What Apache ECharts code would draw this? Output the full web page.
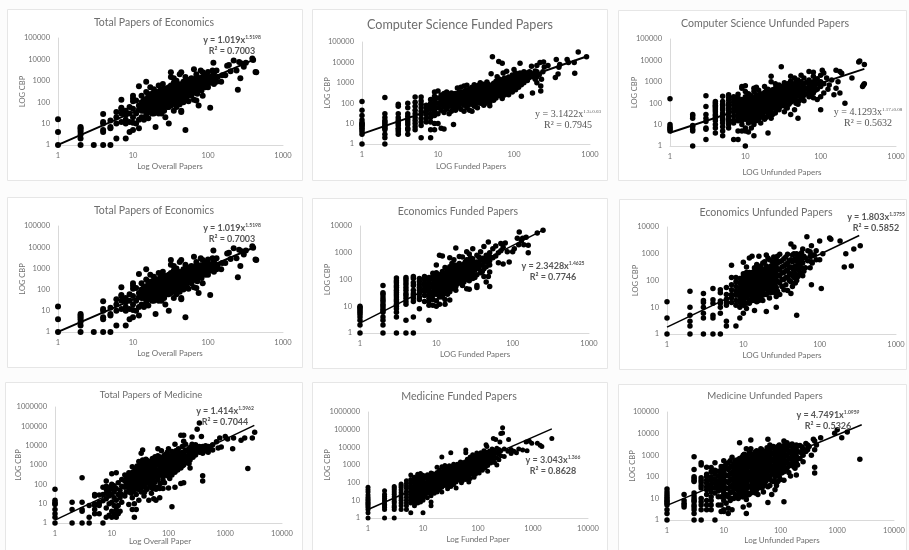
<!DOCTYPE html>
<html><head><meta charset="utf-8">
<style>html,body{margin:0;padding:0;background:#fcfcfc}#c{width:909px;height:550px;filter:blur(0.5px)}</style>
<script src="https://cdn.jsdelivr.net/npm/echarts@6/dist/echarts.min.js"></script>
</head><body><div id="c"></div>
<script>
const econTotal=[[1,1],[1,4],[1,16],[2,1],[2,2],[2,3],[2,4],[2,5],[2,6],[2,7],[3,1],[4,1],[4,4],[4,5],[4,10],[4,12],[4,28],[5,1],[5,6],[5,7],[5,14],[6,2],[6,10],[6,20],[6,35],[7,12],[7,30],[7,50],[7,130],[7,55],[8,2],[8,10],[8,15],[8,25],[8,40],[9,4],[9,12],[9,30],[9,60],[10,5],[10,11],[10,20],[10,50],[10,110],[10,150],[10,200],[11,10],[11,30],[11,120],[12,6],[12,15],[12,45],[12,70],[12,550],[13,20],[13,100],[13,200],[14,15],[14,40],[14,80],[14,130],[15,25],[15,60],[15,300],[15,900],[16,18],[16,50],[16,110],[16,180],[17,35],[17,90],[17,500],[18,45],[18,70],[18,150],[18,250],[19,30],[19,120],[19,400],[20,7],[20,60],[20,95],[20,200],[21,40],[21,130],[21,300],[22,80],[22,170],[22,600],[23,50],[23,110],[23,240],[24,30],[24,140],[24,400],[25,75],[25,200],[25,700],[27,20],[27,90],[27,160],[27,320],[29,60],[29,130],[29,250],[29,450],[30,10],[30,100],[30,180],[30,380],[32,2500],[32,1500],[32,70],[32,140],[32,280],[32,600],[35,40],[35,110],[35,200],[35,350],[35,800],[35,1300],[38,60],[38,160],[38,300],[38,500],[38,1000],[40,90],[40,220],[40,420],[40,700],[42,2000],[44,35],[44,40],[44,120],[44,260],[44,550],[44,2500],[47,100],[47,180],[47,340],[47,900],[50,5],[50,140],[50,240],[50,450],[50,1500],[55,110],[55,300],[55,600],[55,1100],[60,200],[60,380],[60,750],[60,1300],[65,130],[65,280],[65,500],[65,1000],[65,3500],[70,120],[70,350],[70,700],[70,1500],[70,2000],[75,400],[75,70],[75,900],[80,450],[80,800],[80,1400],[80,3000],[85,200],[85,600],[85,1200],[85,2500],[90,700],[90,1600],[95,900],[95,1900],[100,500],[100,1100],[100,2600],[107,55],[107,800],[110,1300],[115,1700],[115,3000],[118,7000],[120,700],[120,2200],[130,900],[130,3000],[135,1500],[150,900],[155,1800],[170,1800],[180,5000],[190,5500],[200,2800],[220,9000],[240,3000],[250,380],[260,7500],[270,1300],[280,6500],[300,4500],[320,7000],[390,11000],[430,2600],[440,2500],[400,9500],
[13,40],[13,60],[14,60],[14,100],[15,40],[15,90],[15,140],[16,35],[16,75],[16,140],[16,240],[17,55],[17,130],[17,220],[18,30],[18,100],[18,190],[19,50],[19,80],[19,160],[19,260],[20,40],[20,130],[20,280],[21,70],[21,100],[21,200],[22,30],[22,55],[22,120],[22,240],[23,80],[23,160],[23,350],[24,60],[24,100],[24,200],[25,50],[25,110],[25,150],[25,300],[26,40],[26,120],[26,230],[26,450],[28,70],[28,110],[28,200],[28,350],[30,60],[30,140],[30,260],[30,500],[31,90],[33,120],[33,220],[33,450],[34,170],[36,80],[36,140],[36,270],[36,600],[38,110],[38,220],[38,380],[40,150],[40,300],[40,550],[42,80],[42,190],[42,350],[45,160],[45,300],[45,450],[45,700],[48,220],[48,400],[48,650],[52,180],[52,350],[52,800],[58,240],[58,450],[58,850],[62,300],[62,550],[62,1000],[68,420],[68,800],[72,250],[72,500],[72,1100],[78,600],[78,1100],[82,350],[88,900],[92,500],[92,1300],[98,700],[105,1500],[110,900],[125,1200]];
const csFunded=[[1,1],[1,3],[1,4],[1,5],[1,6],[1,7],[1,8],[1,9],[1,10],[1,11],[1,15],[1,25],[1,45],[1,120],[2,1],[2,2],[2,3],[2,5],[2,6],[2,7],[2,8],[2,10],[2,12],[2,14],[2,20],[2,30],[2,190],[3,3],[3,4],[3,5],[3,6],[3,8],[3,10],[3,12],[3,15],[3,20],[3,30],[3,70],[3,90],[4,3],[4,5],[4,6],[4,9],[4,12],[4,16],[4,22],[4,30],[4,60],[4,100],[5,5],[5,7],[5,10],[5,14],[5,20],[5,30],[5,45],[5,70],[5,110],[5,200],[6,2],[6,8],[6,12],[6,18],[6,28],[6,40],[6,60],[6,90],[6,130],[6,200],[7,12],[7,18],[7,28],[7,40],[7,60],[7,80],[8,2],[8,5],[8,12],[8,20],[8,30],[8,50],[8,70],[8,100],[8,150],[9,5],[9,10],[9,25],[9,40],[9,60],[9,90],[9,140],[9,220],[9,350],[10,10],[10,30],[10,60],[10,100],[10,180],[10,400],[11,6],[11,45],[11,80],[11,140],[11,250],[12,5.5],[12,35],[12,65],[12,120],[12,300],[13,50],[13,90],[13,170],[13,350],[14,30],[14,70],[14,130],[14,230],[15,40],[15,100],[15,190],[15,320],[16,9],[16,60],[16,150],[16,280],[17,45],[17,110],[17,210],[18,70],[18,140],[18,260],[18,550],[19,90],[19,180],[19,350],[20,50],[20,120],[20,230],[20,600],[22,40],[22,80],[22,160],[22,300],[22,700],[24,60],[24,110],[24,200],[24,400],[24,750],[26,45],[26,140],[26,260],[26,500],[28,40],[28,90],[28,180],[28,330],[28,600],[30,70],[30,120],[30,230],[30,420],[30,800],[33,60],[33,150],[33,290],[33,520],[36,100],[36,190],[36,360],[36,650],[36,1000],[40,80],[40,130],[40,240],[40,450],[40,850],[44,160],[44,300],[44,560],[44,1100],[48,75],[48,110],[48,210],[48,380],[48,700],[50,2800],[52,19000],[54,140],[54,280],[54,500],[54,950],[58,180],[58,350],[58,650],[58,1200],[60,2000],[63,11000],[65,230],[65,450],[65,850],[65,1500],[70,9000],[70,170],[72,300],[72,580],[72,1100],[72,3000],[78,400],[78,750],[78,1400],[80,3700],[85,260],[85,500],[85,1000],[85,1900],[95,350],[95,650],[95,1300],[95,2400],[100,4500],[105,450],[105,850],[105,1700],[105,3000],[115,600],[115,1100],[115,2100],[120,9000],[125,220],[125,800],[125,1400],[125,2800],[135,1000],[135,1900],[135,3500],[150,1300],[150,2500],[165,3000],[170,6500],[175,320],[180,2000],[190,1500],[190,3800],[200,1000],[200,7000],[215,2500],[220,10000],[225,400],[225,700],[230,1500],[240,3500],[245,10500],[250,6000],[280,7000],[350,1800],[360,14000],[380,2700],[390,5800],[400,8000],[500,14000],[520,10000],[620,10000],[630,2900],[700,32000],[900,19000],
[11,110],[11,190],[12,85],[12,200],[13,130],[13,250],[14,100],[14,180],[15,70],[15,140],[15,250],[16,110],[16,210],[17,80],[17,150],[17,300],[18,100],[18,190],[19,65],[19,130],[19,250],[21,100],[21,190],[21,350],[23,120],[23,230],[23,420],[25,80],[25,170],[25,320],[27,110],[27,210],[27,400],[29,150],[29,280],[31,95],[31,190],[31,350],[31,600],[34,120],[34,230],[34,420],[34,750],[38,160],[38,300],[38,550],[42,100],[42,200],[42,370],[42,650],[46,140],[46,260],[46,480],[46,850],[50,180],[50,330],[50,600],[56,230],[56,420],[56,800],[62,300],[62,550],[62,1000],[68,380],[68,700],[68,1300],[75,250],[75,480],[75,900],[75,1700],[82,350],[82,650],[82,1200],[90,450],[90,850],[90,1600],[100,600],[100,1100],[100,2000],[110,700],[110,1300],[110,2500],[120,1500],[120,3000],[130,1100],[130,2200],[145,1500],[145,3000],[160,1800],[160,3500],[180,2700],[200,2000],[200,3500]];
const csUnfunded=[[1,5],[1,6],[1,7],[1,8],[1,10],[1,160],[2,1],[2,5],[2,6],[2,8],[2,9],[2,20],[2,25],[2,30],[3,2],[3,6],[3,7],[3,14],[3,20],[3,30],[3,70],[3,220],[4,4],[4,7],[4,10],[4,15],[4,20],[4,25],[4,30],[4,40],[4,50],[4,60],[4,70],[4,80],[4,100],[4,120],[5,3],[5,5],[5,8],[5,12],[5,16],[5,20],[5,28],[5,35],[5,50],[5,60],[5,75],[5,90],[5,120],[5,210],[6,7],[6,10],[6,14],[6,18],[6,24],[6,35],[6,45],[6,60],[6,80],[6,100],[6,140],[6,180],[6,250],[7,2],[7,12],[7,16],[7,25],[7,40],[7,55],[7,80],[7,110],[7,150],[7,200],[8,2],[8,5],[8,20],[8,30],[8,50],[8,70],[8,100],[8,130],[8,180],[8,260],[9,5],[9,10],[9,15],[9,25],[9,40],[9,70],[9,100],[9,150],[9,500],[9,600],[10,1],[10,5],[10,7],[10,18],[10,30],[10,50],[10,75],[10,120],[10,200],[10,350],[10,650],[11,4.5],[11,12],[11,25],[11,40],[11,65],[11,100],[11,160],[11,280],[12,7],[12,20],[12,35],[12,55],[12,85],[12,130],[12,220],[13,3],[13,10],[13,28],[13,45],[13,70],[13,110],[13,180],[13,350],[13,500],[14,15],[14,38],[14,60],[14,95],[14,150],[14,250],[14,550],[15,25],[15,50],[15,80],[15,130],[15,210],[15,400],[16,12],[16,32],[16,65],[16,110],[16,170],[16,280],[18,18],[18,40],[18,70],[18,120],[18,190],[18,320],[18,600],[20,4],[20,28],[20,55],[20,95],[20,150],[20,250],[20,450],[22,20],[22,45],[22,75],[22,130],[22,210],[22,350],[22,1000],[22,1800],[25,35],[25,65],[25,110],[25,180],[25,300],[25,500],[25,800],[28,50],[28,90],[28,150],[28,260],[28,420],[28,700],[30,5000],[30,75],[30,120],[30,220],[30,360],[30,600],[33,40],[33,100],[33,180],[33,300],[33,500],[33,900],[36,60],[36,140],[36,250],[36,420],[36,700],[40,30],[40,110],[40,200],[40,350],[40,600],[40,1100],[40,1800],[45,50],[45,150],[45,280],[45,480],[45,800],[45,1500],[50,20],[50,90],[50,220],[50,380],[50,650],[50,1200],[55,170],[55,300],[55,520],[55,1000],[55,2000],[60,130],[60,240],[60,420],[60,800],[60,1500],[70,200],[70,350],[70,650],[70,1200],[70,3000],[80,180],[80,300],[80,550],[80,1000],[80,1800],[80,2800],[90,150],[90,450],[90,800],[90,1400],[100,50],[100,200],[100,600],[100,1000],[100,2000],[105,3500],[110,300],[110,800],[110,2600],[120,1500],[125,450],[130,700],[140,1200],[150,250],[160,500],[160,3500],[170,1000],[180,300],[180,3000],[190,2500],[210,100],[260,1500],[320,8500],[330,9500],[360,600],[370,700],[380,800],[380,6500],
[8,15],[8,40],[9,20],[9,32],[9,55],[9,85],[9,120],[10,22],[10,38],[10,60],[10,95],[10,150],[11,18],[11,32],[11,50],[11,80],[11,130],[12,14],[12,28],[12,45],[12,70],[12,105],[12,170],[13,20],[13,36],[13,58],[13,90],[13,140],[14,20],[14,30],[14,48],[14,75],[14,120],[14,190],[15,18],[15,38],[15,65],[15,105],[15,170],[16,22],[16,45],[16,85],[16,140],[16,220],[17,30],[17,55],[17,90],[17,150],[17,240],[19,22],[19,48],[19,85],[19,140],[19,220],[19,380],[21,38],[21,70],[21,115],[21,180],[21,300],[23,30],[23,60],[23,100],[23,160],[23,260],[23,420],[26,50],[26,85],[26,140],[26,240],[26,380],[26,650],[29,70],[29,120],[29,200],[29,340],[29,550],[31,90],[31,160],[31,270],[31,450],[34,70],[34,130],[34,230],[34,380],[34,650],[38,90],[38,170],[38,300],[38,500],[38,850],[42,130],[42,240],[42,420],[42,750],[47,100],[47,200],[47,350],[47,600],[47,1000],[52,130],[52,280],[52,480],[52,850],[58,200],[58,360],[58,650],[65,280],[65,500],[65,950],[75,280],[75,450],[75,850],[85,400],[85,700],[85,1200]];
const econFunded=[[1,1],[1,2],[1,3],[1,4],[1,5],[1,6],[1,7],[1,8],[1,9],[1,10],[2,1],[2,2],[2,3],[2,4],[2,6],[2,7],[2,8],[2,10],[2,12],[2,15],[2,18],[2,22],[2,28],[2,32],[2,60],[3,1],[3,4],[3,6],[3,8],[3,10],[3,12],[3,15],[3,18],[3,22],[3,27],[3,33],[3,40],[3,50],[3,60],[3,75],[3,90],[3,115],[4,1],[4,3],[4,12],[4,15],[4,20],[4,25],[4,30],[4,40],[4,50],[4,65],[4,80],[4,100],[4,120],[5,1],[5,4],[5,15],[5,20],[5,25],[5,30],[5,40],[5,60],[5,75],[5,110],[5,130],[6,8],[6,18],[6,22],[6,30],[6,40],[6,50],[6,65],[6,85],[6,110],[7,15],[7,25],[7,35],[7,45],[7,60],[7,75],[7,100],[7,130],[8,3],[8,11],[8,15],[8,20],[8,28],[8,38],[8,50],[8,70],[8,90],[8,120],[9,11],[9,18],[9,25],[9,35],[9,50],[9,70],[9,100],[9,130],[9,170],[10,10],[10,16],[10,28],[10,45],[10,70],[10,110],[10,180],[10,350],[11,12],[11,22],[11,38],[11,60],[11,95],[11,150],[11,800],[12,30],[12,50],[12,80],[12,130],[12,200],[12,750],[13,12],[13,18],[13,40],[13,65],[13,105],[13,170],[13,280],[14,28],[14,50],[14,85],[14,140],[14,230],[15,17],[15,35],[15,65],[15,110],[15,180],[15,300],[15,650],[16,45],[16,80],[16,130],[16,220],[16,400],[17,55],[17,95],[17,160],[17,270],[17,550],[18,1500],[18,40],[18,70],[18,120],[18,200],[18,340],[20,90],[20,150],[20,250],[20,400],[20,720],[22,60],[22,110],[22,180],[22,300],[22,700],[25,45],[25,130],[25,220],[25,350],[25,550],[25,1100],[27,43],[27,90],[27,170],[27,280],[27,450],[27,900],[30,110],[30,200],[30,340],[30,600],[30,1400],[34,50],[34,60],[34,150],[34,280],[34,450],[34,800],[38,180],[38,350],[38,600],[38,1100],[42,130],[42,250],[42,450],[42,1700],[45,80],[45,300],[45,800],[48,130],[48,500],[48,2500],[50,55],[50,190],[50,350],[50,1000],[55,650],[55,1400],[60,750],[60,1800],[65,420],[65,1000],[70,2200],[70,1200],[75,380],[75,1600],[80,2300],[85,1100],[90,450],[100,1100],[105,1400],[115,3500],[120,2000],[122,6000],[130,2800],[135,3500],[140,2000],[150,3800],[160,1000],[160,1900],[210,5500],[250,7000],
[10,35],[10,55],[10,90],[10,140],[11,30],[11,48],[11,75],[11,120],[12,22],[12,40],[12,65],[12,105],[12,160],[13,30],[13,52],[13,85],[13,135],[14,38],[14,65],[14,110],[14,180],[15,50],[15,85],[15,140],[15,230],[16,60],[16,105],[16,170],[16,290],[17,75],[17,125],[17,210],[17,350],[18,55],[18,95],[18,155],[18,260],[19,70],[19,120],[19,200],[19,330],[20,115],[20,190],[20,320],[21,85],[21,140],[21,240],[23,80],[23,140],[23,230],[23,380],[24,100],[24,170],[24,280],[24,460],[26,120],[26,200],[26,320],[26,520],[28,130],[28,230],[28,380],[28,650],[30,150],[30,260],[30,450],[32,120],[32,220],[32,380],[36,250],[36,420],[36,700],[40,200],[40,350],[40,620],[45,450],[45,600],[50,500],[50,700]];
const econUnfunded=[[1,1],[1,4],[1,16],[2,1],[2,2],[2,3],[2,5],[2,10],[2,40],[3,1],[3,4],[3,6],[3,10],[3,15],[3,18],[3,33],[4,1],[4,4],[4,5],[4,14],[4,19],[4,50],[5,1],[5,6],[5,10],[5,14],[5,17],[5,35],[5,45],[6,2],[6,3],[6,12],[6,15],[6,20],[6,30],[6,55],[7,15],[7,22],[7,30],[7,45],[7,70],[7,130],[7,370],[8,2],[8,12],[8,18],[8,28],[8,40],[8,60],[8,90],[8,130],[9,4],[9,10],[9,15],[9,25],[9,35],[9,55],[9,80],[9,120],[10,6],[10,12],[10,18],[10,28],[10,45],[10,70],[10,110],[10,180],[10,480],[11,9],[11,22],[11,35],[11,55],[11,90],[11,150],[11,320],[12,14],[12,28],[12,45],[12,75],[12,120],[12,200],[12,700],[13,18],[13,35],[13,60],[13,95],[13,160],[13,800],[14,7.5],[14,25],[14,45],[14,75],[14,130],[14,220],[15,16],[15,35],[15,60],[15,100],[15,170],[15,280],[16,28],[16,50],[16,85],[16,140],[16,800],[17,20],[17,40],[17,70],[17,115],[17,190],[17,350],[18,18],[18,55],[18,95],[18,160],[18,260],[20,7],[20,30],[20,70],[20,120],[20,200],[20,350],[20,900],[22,22],[22,50],[22,90],[22,150],[22,260],[22,600],[25,40],[25,75],[25,130],[25,220],[25,400],[25,750],[27,10],[27,25],[27,55],[27,105],[27,180],[27,320],[27,600],[30,30],[30,80],[30,150],[30,260],[30,500],[30,950],[34,45],[34,110],[34,200],[34,350],[34,650],[38,42],[38,130],[38,250],[38,450],[38,950],[42,33],[42,90],[42,180],[42,320],[42,600],[42,2300],[46,130],[46,240],[46,1800],[46,1000],[50,5],[50,100],[50,300],[50,550],[50,1000],[55,200],[55,400],[55,800],[60,150],[60,450],[60,1500],[65,300],[65,700],[68,4300],[70,550],[70,1300],[78,70],[78,500],[78,2000],[85,900],[100,600],[105,50],[100,3000],[110,1000],[135,3900],[140,3500],[185,3000],[210,320],[220,1000],[260,350],[280,1500],[340,2000],
[9,18],[9,45],[10,22],[10,35],[10,55],[10,90],[10,140],[11,14],[11,28],[11,45],[11,70],[11,115],[11,200],[12,18],[12,35],[12,60],[12,95],[12,155],[13,24],[13,45],[13,75],[13,125],[13,200],[14,18],[14,35],[14,60],[14,100],[14,170],[14,300],[15,22],[15,45],[15,80],[15,130],[15,220],[15,400],[16,18],[16,38],[16,65],[16,110],[16,180],[16,320],[17,30],[17,55],[17,90],[17,150],[17,260],[18,28],[18,40],[18,75],[18,125],[18,210],[18,450],[19,50],[19,90],[19,150],[19,250],[19,500],[21,40],[21,65],[21,110],[21,180],[21,300],[21,700],[23,35],[23,70],[23,120],[23,200],[23,350],[24,55],[24,100],[24,170],[24,280],[24,500],[26,35],[26,65],[26,110],[26,180],[26,300],[26,500],[28,40],[28,90],[28,150],[28,250],[28,450],[28,800],[32,60],[32,110],[32,190],[32,320],[32,550],[36,70],[36,130],[36,230],[36,400],[36,750],[40,100],[40,180],[40,320],[40,550],[44,60],[44,150],[44,280],[44,500],[44,900],[48,80],[48,170],[48,350],[48,650],[52,140],[52,250],[52,450],[52,750],[58,300],[58,600],[58,1100],[62,220],[62,800],[75,300],[75,800],[75,1200],[80,450],[80,900],[90,600],[90,1300]];
const medTotal=[[1,1],[1,2],[1,3],[1,5],[1,9],[1,10],[1,12],[1,15],[1,55],[2,1],[2,5],[2,12],[3,1],[3,4],[3,5],[3,12],[3,220],[4,1],[4,2],[4,8],[5,3],[5,5],[5,8],[5,10],[5,25],[5,30],[6,3],[6,8],[6,10],[6,12],[6,28],[7,1],[7,14],[7,30],[7,70],[8,2],[8,6],[8,18],[8,35],[8,55],[8,80],[8,150],[9,2.5],[9,10],[9,25],[9,45],[9,70],[10,2],[10,4],[10,12],[10,30],[10,60],[10,100],[10,350],[11,3],[11,8],[11,20],[11,40],[11,85],[12,2],[12,5],[12,15],[12,60],[12,400],[13,3],[13,8],[13,30],[13,120],[14,4],[14,20],[14,50],[15,12],[15,30],[15,80],[15,180],[17,25],[17,70],[17,150],[17,300],[20,9],[20,40],[20,100],[20,200],[20,400],[23,5],[23,20],[23,60],[23,140],[23,280],[23,800],[25,2],[25,10],[25,90],[25,180],[25,350],[27,5],[27,30],[27,130],[27,250],[27,500],[30,15],[30,70],[30,160],[30,320],[30,650],[30,1500],[33,40],[33,100],[33,220],[33,450],[33,4000],[35,6000],[35,1800],[37,25],[37,140],[37,300],[37,600],[37,1200],[40,60],[40,180],[40,380],[40,800],[40,2000],[45,15],[45,110],[45,260],[45,500],[45,1000],[50,35],[50,150],[50,330],[50,650],[50,1400],[55,18],[55,80],[55,220],[55,450],[55,900],[55,1900],[60,15],[60,55],[60,280],[60,550],[60,1100],[60,2000],[65,7000],[65,180],[65,350],[65,3000],[70,20],[70,60],[70,450],[70,900],[70,1700],[75,5500],[80,60],[80,250],[80,600],[80,1200],[80,2400],[90,350],[90,750],[90,1500],[90,3500],[100,65],[100,450],[100,1000],[100,1900],[100,7000],[115,7],[115,300],[115,600],[115,1300],[115,2700],[115,5000],[130,70],[130,420],[130,800],[130,1700],[130,3600],[130,12000],[145,550],[145,1100],[145,2300],[145,4800],[165,110],[165,700],[165,1500],[165,3000],[165,35000],[185,120],[185,1000],[185,2000],[185,4000],[185,35000],[185,17000],[210,1300],[210,2700],[210,5500],[240,700],[240,1800],[240,3500],[240,8000],[260,28000],[270,2500],[270,4800],[270,10000],[300,3300],[300,6500],[300,11000],[320,70000],[350,150000],[350,4500],[350,9000],[380,30000],[400,150],[400,280],[400,4000],[400,7000],[450,5500],[450,10000],[500,4500],[500,9000],[550,7000],[600,6000],[600,11000],[700,16000],[750,7500],[800,25000],[850,8500],[1000,30000],[1100,22000],[1350,7000],[1400,25000],[1900,19000],[2200,25000],[2500,650],[3000,25000],[3300,50000],
[18,40],[18,100],[18,220],[20,60],[20,150],[20,280],[22,35],[22,80],[22,190],[22,380],[24,45],[24,110],[24,230],[24,450],[26,70],[26,160],[26,320],[26,650],[28,55],[28,110],[28,200],[28,400],[28,900],[32,50],[32,120],[32,260],[32,520],[32,1000],[35,75],[35,160],[35,350],[35,700],[35,1300],[38,40],[38,100],[38,220],[38,450],[38,900],[42,55],[42,140],[42,300],[42,600],[42,1200],[42,1700],[47,80],[47,190],[47,400],[47,800],[47,1500],[52,60],[52,110],[52,250],[52,520],[52,1100],[52,2200],[58,130],[58,320],[58,650],[58,1300],[58,2700],[65,70],[65,240],[65,500],[65,1000],[65,1900],[72,110],[72,300],[72,650],[72,1300],[72,2600],[80,170],[80,420],[80,850],[80,1700],[85,120],[85,500],[85,1000],[85,2000],[85,3300],[95,280],[95,600],[95,1250],[95,2500],[95,4500],[105,200],[105,750],[105,1500],[105,3000],[110,350],[110,850],[110,1750],[120,480],[120,1000],[120,2100],[120,4000],[135,600],[135,1300],[135,2700],[135,5500],[150,800],[150,1800],[150,3600],[150,7000],[175,900],[175,2300],[175,4500],[175,9000],[200,1500],[200,3000],[200,6000],[200,12000],[230,1200],[230,2200],[230,4200],[230,7000],[260,3000],[260,6000],[260,12000],[280,4000],[320,5000],[320,8000],[350,6500],[400,5500],[400,9000],[450,7500],[500,6500],[550,9000]];
const medFunded=[[1,1],[1,2],[1,3],[1,4],[1,5],[1,6],[1,7],[1,8],[1,10],[1,12],[1,15],[1,20],[1,30],[1,40],[1,55],[2,1],[2,3],[2,4],[2,5],[2,6],[2,8],[2,10],[2,13],[2,17],[2,22],[2,35],[3,1],[3,3],[3,4],[3,5],[3,7],[3,9],[3,12],[3,16],[3,22],[3,30],[3,40],[3,50],[3,60],[4,3],[4,5],[4,7],[4,10],[4,14],[4,20],[4,28],[4,40],[4,55],[4,70],[4,85],[5,3],[5,5],[5,7],[5,10],[5,15],[5,22],[5,32],[5,48],[5,65],[5,90],[5,130],[6,2],[6,7],[6,10],[6,14],[6,20],[6,30],[6,45],[6,65],[6,100],[6,150],[6,270],[7,5],[7,8],[7,12],[7,18],[7,26],[7,40],[7,60],[7,90],[7,130],[7,200],[8,7],[8,10],[8,16],[8,24],[8,36],[8,55],[8,80],[8,120],[8,180],[8,300],[9,8],[9,12],[9,18],[9,28],[9,42],[9,65],[9,100],[9,150],[9,240],[9,330],[10,2],[10,10],[10,14],[10,22],[10,34],[10,50],[10,75],[10,115],[10,170],[10,260],[12,14],[12,28],[12,50],[12,90],[12,160],[12,280],[14,5],[14,8],[14,18],[14,35],[14,65],[14,120],[14,220],[14,350],[16,25],[16,45],[16,85],[16,160],[16,300],[18,30],[18,60],[18,110],[18,200],[18,380],[18,750],[20,40],[20,75],[20,140],[20,260],[20,500],[22,30],[22,55],[22,100],[22,180],[22,340],[22,2800],[22,800],[25,70],[25,130],[25,240],[25,450],[25,950],[28,45],[28,90],[28,170],[28,320],[28,600],[32,60],[32,120],[32,220],[32,420],[32,800],[32,5000],[36,80],[36,160],[36,300],[36,560],[36,1100],[40,50],[40,110],[40,210],[40,400],[40,750],[45,140],[45,280],[45,520],[45,1000],[50,100],[50,190],[50,370],[50,700],[50,1400],[55,250],[55,480],[55,950],[60,5000],[60,7000],[60,150],[60,330],[60,650],[60,1300],[68,110],[68,220],[68,450],[68,900],[68,1800],[75,300],[75,600],[75,1200],[75,2500],[85,200],[85,400],[85,800],[85,1600],[85,3200],[95,550],[95,1100],[95,2200],[95,4800],[105,350],[105,750],[105,1500],[105,3000],[120,500],[120,1000],[120,2000],[120,4000],[135,700],[135,1400],[135,2800],[135,5600],[140,14000],[145,11000],[150,450],[150,950],[150,1900],[150,3800],[170,1300],[170,2600],[170,5200],[190,1800],[190,3600],[190,7000],[190,32000],[210,28000],[220,1000],[220,2500],[220,5000],[220,9000],[250,20000],[260,3300],[260,6500],[260,60000],[280,130000],[280,65000],[300,3000],[300,8000],[350,6000],[360,28000],[400,4500],[400,7500],[450,6000],[500,5000],[550,8000],[650,7000],[750,20000],[780,6500],[950,17000],[860,22000],[1200,17000],[1350,13000],[1450,11000],[2200,32000],
[11,20],[11,35],[11,60],[11,100],[11,180],[13,25],[13,45],[13,80],[13,140],[13,250],[15,30],[15,55],[15,100],[15,180],[15,320],[17,40],[17,70],[17,130],[17,240],[19,50],[19,90],[19,170],[19,320],[21,60],[21,110],[21,210],[21,400],[24,80],[24,150],[24,280],[24,550],[26,100],[26,190],[26,360],[26,700],[30,70],[30,130],[30,250],[30,480],[30,900],[34,90],[34,170],[34,330],[34,640],[38,120],[38,230],[38,450],[38,850],[42,150],[42,300],[42,580],[42,1100],[48,200],[48,400],[48,780],[48,1500],[52,130],[52,270],[52,520],[52,1000],[58,190],[58,380],[58,750],[58,1500],[64,270],[64,530],[64,1050],[64,2100],[72,170],[72,360],[72,720],[72,1400],[72,2800],[80,480],[80,950],[80,1900],[80,3800],[90,300],[90,650],[90,1300],[90,2600],[100,450],[100,900],[100,1800],[100,3600],[112,600],[112,1200],[112,2400],[112,5000],[128,800],[128,1600],[128,3200],[128,6500],[145,1100],[145,2200],[145,4500],[160,1500],[160,3000],[160,6000],[180,2000],[180,4000],[180,8000],[200,1400],[200,3000],[200,6000],[240,2000],[240,4000],[240,7500]];
const medUnfunded=[[1,1],[1,2],[1,3],[1,5],[1,6],[1,7],[1,8],[1,10],[1,12],[1,15],[1,20],[1,27],[2,4],[2,5],[2,6],[2,8],[2,15],[3,1],[3,2],[3,3],[3,4],[3,5],[3,7],[3,8],[3,10],[3,13],[3,18],[3,60],[3,70],[3,85],[3,100],[3,220],[3,850],[4,1],[4,3],[4,5],[4,7],[4,10],[4,30],[4,40],[4,55],[4,70],[4,90],[4,350],[4,450],[5,3],[5,5],[5,8],[5,15],[5,25],[5,35],[5,50],[5,70],[5,100],[5,130],[5,280],[6,3],[6,5],[6,8],[6,12],[6,20],[6,30],[6,45],[6,70],[6,100],[6,170],[6,270],[7,1],[7,18],[7,30],[7,50],[7,80],[7,130],[7,200],[7,450],[8,5],[8,12],[8,22],[8,38],[8,65],[8,110],[8,180],[9,2.5],[9,5],[9,12],[9,25],[9,50],[9,100],[9,200],[9,300],[10,2.5],[10,3],[10,8],[10,18],[10,38],[10,75],[10,150],[10,300],[10,550],[12,2],[12,3.5],[12,12],[12,28],[12,55],[12,110],[12,220],[12,450],[14,3],[14,10],[14,20],[14,40],[14,80],[14,160],[14,320],[14,800],[16,15],[16,30],[16,65],[16,130],[16,260],[16,550],[18,10],[18,24],[18,50],[18,100],[18,200],[18,400],[19,3800],[20,16],[20,35],[20,75],[20,150],[20,300],[20,600],[22,4],[22,12],[22,28],[22,60],[22,120],[22,240],[22,480],[22,1000],[25,2],[25,9],[25,20],[25,45],[25,95],[25,190],[25,380],[25,800],[25,2000],[28,5],[28,15],[28,35],[28,75],[28,150],[28,300],[28,600],[28,1300],[30,5000],[30,2000],[32,25],[32,55],[32,110],[32,220],[32,450],[32,900],[36,18],[36,40],[36,85],[36,170],[36,340],[36,680],[36,1400],[40,15],[40,30],[40,65],[40,130],[40,260],[40,520],[40,1050],[45,48],[45,100],[45,200],[45,400],[45,800],[45,2000],[50,20],[50,38],[50,75],[50,150],[50,300],[50,600],[50,1200],[55,60],[55,115],[55,230],[55,460],[55,920],[60,6.5],[60,35],[60,90],[60,180],[60,350],[60,700],[60,1400],[60,5500],[70,15],[70,65],[70,130],[70,270],[70,540],[70,1100],[70,2200],[80,25],[80,60],[80,100],[80,200],[80,400],[80,800],[80,1600],[90,60],[90,150],[90,300],[90,600],[90,1200],[90,2500],[100,75],[100,220],[100,450],[100,900],[100,1800],[115,7],[115,70],[115,170],[115,340],[115,680],[115,1350],[115,2700],[115,4500],[130,250],[130,500],[130,1000],[130,2000],[130,3800],[150,110],[150,380],[150,750],[150,1500],[150,3000],[170,300],[170,600],[170,1200],[170,2400],[190,120],[190,450],[190,900],[190,1800],[190,3000],[220,700],[220,1400],[220,2800],[250,500],[250,1000],[250,2000],[280,1500],[280,3500],[320,2500],[350,1000],[380,5500],[400,150],[400,280],[400,1800],[400,4500],[430,3000],[510,6500],[900,10500],[1000,15000],[1200,6500],[1500,12000],[2500,650],
[8,30],[8,50],[9,35],[9,70],[9,140],[10,12],[10,25],[10,50],[10,100],[10,200],[11,6],[11,15],[11,30],[11,60],[11,120],[11,250],[11,400],[13,8],[13,18],[13,35],[13,70],[13,140],[13,280],[13,550],[15,10],[15,25],[15,50],[15,100],[15,200],[15,400],[17,12],[17,35],[17,70],[17,140],[17,280],[17,600],[19,18],[19,40],[19,85],[19,170],[19,350],[19,700],[21,12],[21,22],[21,50],[21,100],[21,200],[21,400],[21,800],[23,15],[23,35],[23,70],[23,140],[23,280],[23,550],[23,1100],[26,14],[26,30],[26,60],[26,120],[26,240],[26,480],[26,950],[30,18],[30,40],[30,85],[30,170],[30,340],[30,680],[30,1200],[34,35],[34,70],[34,140],[34,280],[34,550],[34,1100],[38,25],[38,50],[38,100],[38,200],[38,420],[38,850],[38,1600],[42,40],[42,80],[42,160],[42,320],[42,650],[42,1300],[47,30],[47,60],[47,120],[47,250],[47,500],[47,1000],[47,1800],[52,45],[52,95],[52,190],[52,380],[52,760],[52,1500],[58,75],[58,150],[58,300],[58,600],[58,1200],[58,2200],[65,40],[65,100],[65,200],[65,400],[65,800],[65,1600],[65,3000],[75,60],[75,160],[75,320],[75,640],[75,1300],[75,2500],[85,40],[85,120],[85,250],[85,500],[85,1000],[85,2000],[95,100],[95,200],[95,400],[95,800],[95,1600],[95,3000],[105,150],[105,300],[105,600],[105,1200],[105,2400],[120,220],[120,450],[120,900],[120,1800],[120,3500],[140,160],[140,320],[140,650],[140,1300],[140,2600],[160,420],[160,850],[160,1700],[160,3300],[180,250],[180,550],[180,1100],[180,2200],[200,350],[200,700],[200,1400],[200,2700],[240,1200],[240,2400],[300,1800],[300,3000]];

const trendEconTotal=[[1,1.02],[430,10500]];
const trendCsFunded=[[1,3.14],[900,19500]];
const trendCsUnfunded=[[1,4.13],[380,4000]];
const trendEconFunded=[[1,2.34],[250,7000]];
const trendEconUnfunded=[[1,1.8],[330,4800]];
const trendMedTotal=[[1,1.41],[3250,112000]];
const trendMedFunded=[[1,3.04],[2200,110000]];
const trendMedUnfunded=[[1,4.75],[2700,25700]];

const titles=['Total Papers of Economics','Computer Science Funded Papers','Computer Science Unfunded Papers','Total Papers of Economics','Economics Funded Papers','Economics Unfunded Papers','Total Papers of Medicine','Medicine Funded Papers','Medicine Unfunded Papers'];
const xNames=['Log Overall Papers','LOG Funded Papers','LOG Unfunded Papers','Log Overall Papers','LOG Funded Papers','LOG Unfunded Papers','Log Overall Paper','Log Funded Paper','Log Unfunded Papers'];
const yName='LOG CBP';
const eqMain=['y = 1.019x','y = 3.1422x','y = 4.1293x','y = 1.019x','y = 2.3428x','y = 1.803x','y = 1.414x','y = 3.043x','y = 4.7491x'];
const eqPow=['1.5198','1.3±0.03','1.17±0.08','1.5198','1.4625','1.3755','1.3962','1.366','1.0959'];
const eqR2=['R² = 0.7003','R² = 0.7945','R² = 0.5632','R² = 0.7003','R² = 0.7746','R² = 0.5852','R² = 0.7044','R² = 0.8628','R² = 0.5326'];
const pointSets=[econTotal,csFunded,csUnfunded,econTotal,econFunded,econUnfunded,medTotal,medFunded,medUnfunded];
const trendSets=[trendEconTotal,trendCsFunded,trendCsUnfunded,trendEconTotal,trendEconFunded,trendEconUnfunded,trendMedTotal,trendMedFunded,trendMedUnfunded];
const xMax=[1000,1000,1000,1000,1000,1000,10000,10000,10000];
const yMax=[100000,100000,100000,100000,10000,10000,1000000,1000000,100000];

const layout=[
 {box:[7,9,295,171],plot:[58,38,283,145],t:[154,17,10.5],e:[232,35,'s'],xn:[170,162],yg:31,d:6},
 {box:[312,9,295,171],plot:[362,42,590,144],t:[460,18,12.6],e:[568,109,'t'],xn:[471,162],yg:30,d:5.5},
 {box:[618,10,288,170],plot:[670,39,896,146],t:[765,18,10.6],e:[868,107,'t'],xn:[782,168],yg:31,d:5.5},
 {box:[7,197,295,170],plot:[58,226,283,332],t:[154,205,10.5],e:[232,223,'s'],xn:[170,349],yg:31,d:6},
 {box:[312,198,295,170],plot:[360,226,589,333],t:[458,206,10.5],e:[553,261,'s'],xn:[475,350],yg:28,d:5.5},
 {box:[619,199,287,170],plot:[667,227,896,334],t:[766,207,10.6],e:[876,212,'s'],xn:[782,351],yg:27,d:5.5},
 {box:[5,382,297,168],plot:[55,407,282,523],t:[151,389.5,9.5],e:[225,406,'s'],xn:[160,537],yg:32,d:5.5},
 {box:[312,382,295,168],plot:[368,412,588,518],t:[459,391,10.7],e:[553,455,'s'],xn:[478,535],yg:36,d:5},
 {box:[618,384,288,166],plot:[667,412,894,520],t:[765,391,9.7],e:[828,410,'s'],xn:[782,536],yg:30,d:5.5}
];

const grid=[],xAxis=[],yAxis=[],series=[],title=[],graphic=[];
const fmt=v=>String(Math.round(v));
layout.forEach((L,i)=>{
  graphic.push({type:'rect',silent:true,z:-10,shape:{x:L.box[0]+.5,y:L.box[1]+.5,width:L.box[2],height:L.box[3]},style:{fill:'#ffffff',stroke:'#e6e6e6',lineWidth:1}});
  grid.push({left:L.plot[0],top:L.plot[1],width:L.plot[2]-L.plot[0],height:L.plot[3]-L.plot[1],containLabel:false});
  xAxis.push({gridIndex:i,type:'log',logBase:10,min:1,max:xMax[i],splitLine:{show:false},axisTick:{show:false},
    axisLine:{onZero:false,lineStyle:{color:'#d9d9d9',width:1}},axisLabel:{fontFamily:'Lato',fontSize:7.5,color:'#6f6f6f',margin:7,formatter:fmt,hideOverlap:false}});
  yAxis.push({gridIndex:i,type:'log',logBase:10,min:1,max:yMax[i],splitLine:{show:false},axisTick:{show:false},
    axisLine:{onZero:false,lineStyle:{color:'#d9d9d9',width:1}},axisLabel:{fontFamily:'Lato',fontSize:7.5,color:'#6f6f6f',margin:8,formatter:fmt,hideOverlap:false},
    name:yName,nameLocation:'middle',nameGap:L.yg,nameMoveOverlap:false,nameTextStyle:{fontFamily:'Lato',fontSize:7.5,color:'#6f6f6f'}});
  series.push({type:'scatter',xAxisIndex:i,yAxisIndex:i,data:pointSets[i],symbol:'circle',symbolSize:L.d,itemStyle:{color:'#000',opacity:1},clip:false,silent:true,animation:false});
  series.push({type:'line',xAxisIndex:i,yAxisIndex:i,data:trendSets[i],symbol:'none',lineStyle:{color:'#000',width:i===4||i===5||i>=6?1.5:2},silent:true,animation:false,z:3});
  title.push({text:titles[i],left:L.t[0],top:L.t[1],textAlign:'center',padding:0,textStyle:{fontFamily:'Lato',fontWeight:'normal',fontSize:L.t[2],color:'#6e6e6e'}});
  title.push({text:xNames[i],left:L.xn[0],top:L.xn[1],textAlign:'center',padding:0,textStyle:{fontFamily:'Lato',fontWeight:'normal',fontSize:8,color:'#6e6e6e'}});
  const serif=L.e[2]==='t', ff=serif?'Liberation Serif':'Lato', c='#555', w=serif?'normal':'bold', fs=serif?10:9;
  title.push({text:'{m|'+eqMain[i]+'}{p|'+eqPow[i]+'}\n{m|'+eqR2[i]+'}',left:L.e[0],top:L.e[1],textAlign:'center',padding:0,
    textStyle:{lineHeight:11,rich:{m:{fontFamily:ff,fontSize:fs,fontWeight:w,color:c,lineHeight:11},p:{fontFamily:ff,fontSize:5,fontWeight:w,color:c,verticalAlign:'top',lineHeight:11}}}});
});
const chart=echarts.init(document.getElementById('c'),null,{renderer:'canvas'});
chart.setOption({animation:false,backgroundColor:'#fcfcfc',tooltip:{show:false},legend:{show:false},title,grid,xAxis,yAxis,series,graphic});
</script></body></html>
